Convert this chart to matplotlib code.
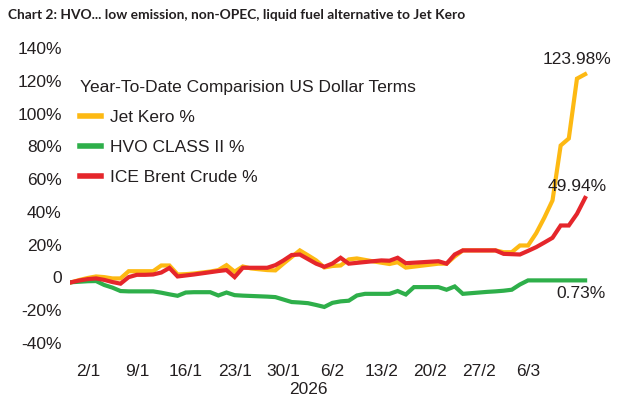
import numpy as np
import matplotlib
matplotlib.use("Agg")
import matplotlib.pyplot as plt
import matplotlib.transforms as mtrans

# year-to-date % change, one value per trading day (6 per week on the chart)
jet_kero = [-2.9, -1.5, -0.3, 0.6, 0.2, -0.6, -0.6, 3.8, 3.8, 3.8,
            3.8, 7.3, 7.3, 1.8, 2.0, 2.4, 3.0, 3.6, 4.5, 7.5,
            3.5, 6.7, 5.5, 5.0, 4.5, 4.3, 8.5, 12.5, 16.5, 13.5,
            10.4, 6.1, 7.0, 7.3, 11.0, 11.6, 10.7, 9.8, 9.0, 8.2,
            9.3, 6.0, 6.6, 7.2, 7.8, 8.4, 8.4, 12.8, 16.5, 16.5,
            16.5, 16.5, 16.5, 15.4, 15.4, 19.5, 19.5, 27.0, 36.5, 47.0,
            80.5, 84.8, 121.3, 124.0]
hvo = [-2.9, -2.6, -2.3, -2.2, -4.6, -6.2, -8.3, -8.5, -8.5, -8.5,
       -8.5, -9.3, -10.3, -11.2, -9.2, -9.0, -9.0, -9.0, -11.0, -9.2,
       -10.8, -11.1, -11.3, -11.5, -11.7, -12.0, -13.5, -15.0, -15.3, -15.7,
       -16.8, -18.0, -15.5, -14.6, -14.2, -11.0, -10.0, -10.0, -10.0, -10.0,
       -8.3, -10.4, -5.9, -5.9, -5.9, -5.9, -7.5, -5.5, -10.0, -9.6,
       -9.2, -8.8, -8.5, -8.1, -7.5, -4.3, -1.8, -1.8, -1.8, -1.8,
       -1.8, -1.8, -1.8, -1.8]
brent = [-2.9, -1.8, -1.0, -0.6, -1.5, -2.8, -3.8, 0.2, 1.6, 1.6,
         1.8, 3.0, 5.8, 0.6, 1.2, 1.8, 2.5, 3.2, 3.9, 4.5,
         0.2, 5.9, 5.9, 5.9, 5.9, 7.5, 10.4, 13.7, 14.0, 11.2,
         8.4, 6.5, 8.5, 12.0, 8.4, 8.9, 9.4, 9.9, 10.4, 10.2,
         12.0, 8.7, 9.0, 9.3, 9.6, 9.9, 8.4, 14.0, 16.5, 16.5,
         16.5, 16.5, 16.5, 14.4, 14.2, 14.0, 16.2, 18.5, 21.3, 24.2,
         31.7, 31.7, 38.8, 48.5]

tick_labels = ["2/1", "9/1", "16/1", "23/1", "30/1", "6/2", "13/2", "20/2", "27/2", "6/3"]
first_tick = 2      # index of 2/1
days_per_week = 6
end_labels = ["123.98%", "0.73%", "49.94%"]

C_JET = "#FDB913"
C_HVO = "#2EAF4A"
C_ICE = "#E5262B"
TXT = "#231F20"

plt.rcParams["font.family"] = ["Liberation Sans", "DejaVu Sans"]

W, H = 643, 403
fig = plt.figure(figsize=(W / 100, H / 100), dpi=100)
ax = fig.add_axes([70 / W, (H - 343) / H, 520 / W, 295 / H])

x = np.arange(len(jet_kero))
lw = 3.0
ax.plot(x, jet_kero, color=C_JET, lw=lw, label="Jet Kero %", solid_joinstyle="miter")
ax.plot(x, hvo, color=C_HVO, lw=lw, label="HVO CLASS II %", solid_joinstyle="miter")
ax.plot(x, brent, color=C_ICE, lw=lw, label="ICE Brent Crude %", solid_joinstyle="miter")

ax.set_xlim(-0.2, 63.6)
ax.set_ylim(-40, 140)
yt = np.arange(-40, 141, 20)
ax.set_yticks(yt)
ax.set_yticklabels(["0" if v == 0 else f"{v}%" for v in yt])
xt = [first_tick + days_per_week * k for k in range(len(tick_labels))]
ax.set_xticks(xt)
ax.set_xticklabels(tick_labels)
ax.tick_params(length=0, labelsize=12.5, colors=TXT)
ax.tick_params(axis="y", pad=6)
ax.tick_params(axis="x", pad=15)
for s in ax.spines.values():
    s.set_visible(False)

trans = mtrans.blended_transform_factory(ax.transData, fig.transFigure)
ax.text(np.mean(xt), (H - 390) / H, "2026", transform=trans, ha="center", va="center",
        fontsize=12.5, color=TXT)

# end-of-series labels
ax.text(x[-1] - 1.0, 128.5, end_labels[0], ha="center", va="bottom", fontsize=12.5, color=TXT)
ax.text(x[-1] - 0.5, -5.5, end_labels[1], ha="center", va="top", fontsize=12.5, color=TXT)
ax.text(x[-1] - 1.0, 51.0, end_labels[2], ha="center", va="bottom", fontsize=12.5, color=TXT)

leg = ax.legend(loc="upper left", bbox_to_anchor=(80 / W, 1 - 80 / H), bbox_transform=fig.transFigure,
                frameon=False, fontsize=12.5, title="Year-To-Date Comparision US Dollar Terms",
                title_fontsize=12.5, alignment="left", handlelength=1.2, handletextpad=0.5,
                labelspacing=0.85, borderpad=0, borderaxespad=0)
for t in leg.get_texts():
    t.set_color(TXT)
leg.get_title().set_color(TXT)
for h in leg.legend_handles:
    h.set_linewidth(4)

fig.text(8 / W, 1 - 15 / H, "Chart 2: HVO... low emission, non-OPEC, liquid fuel alternative to Jet Kero",
         ha="left", va="center", fontsize=9.9, fontweight="bold", color=TXT,
         family=["Lato", "Liberation Sans", "DejaVu Sans"])

fig.savefig("out.png", dpi=100)
